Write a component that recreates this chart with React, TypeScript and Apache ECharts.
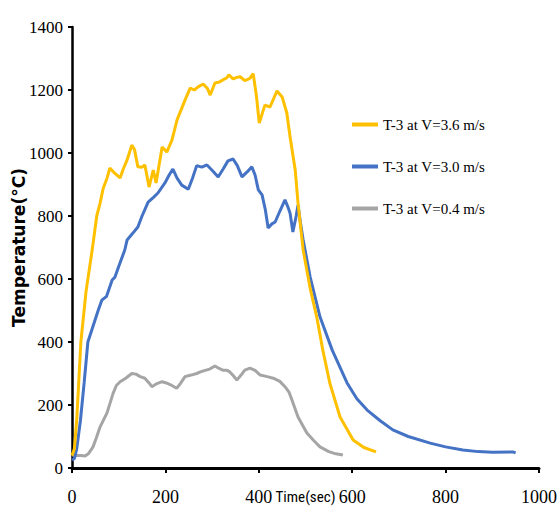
import React, { useEffect, useRef } from "react";
import * as echarts from "echarts";

const seriesNames = ["T-3 at V=3.6 m/s", "T-3 at V=3.0 m/s", "T-3 at V=0.4 m/s"];
const seriesColors = ["#FFC000", "#4472C4", "#A5A5A5"];

const yellowData: number[][] = [
  [0, 40], [5, 60], [10, 150], [19, 400], [30, 560], [43, 690], [53, 800], [60, 840], [67, 889],
  [75, 920], [81, 952], [92, 935], [103, 921], [110, 950], [118, 978], [128, 1025], [134, 1010],
  [141, 956], [150, 955], [156, 962], [165, 892], [174, 946], [180, 905], [193, 1019], [203, 1003],
  [214, 1041], [225, 1105], [242, 1168], [253, 1206], [262, 1200], [270, 1210], [281, 1219],
  [290, 1205], [296, 1184], [306, 1222], [315, 1225], [323, 1232], [331, 1238], [336, 1248],
  [345, 1235], [353, 1240], [360, 1242], [370, 1230], [381, 1237], [388, 1252], [395, 1180],
  [401, 1095], [413, 1152], [424, 1146], [439, 1197], [450, 1178], [460, 1127], [467, 1051],
  [478, 946], [484, 841], [495, 692], [510, 570], [524, 480], [537, 375], [552, 270], [574, 162],
  [602, 89], [625, 65], [651, 51]
];

const blueData: number[][] = [
  [0, 25], [5, 30], [10, 60], [18, 150], [26, 270], [34, 400], [45, 450], [56, 500], [64, 533],
  [74, 545], [86, 597], [92, 606], [100, 640], [113, 692], [118, 724], [130, 745], [141, 765],
  [150, 800], [163, 844], [175, 860], [184, 873], [199, 905], [208, 930], [216, 949], [225, 920],
  [235, 898], [249, 885], [258, 920], [267, 960], [278, 955], [289, 962], [300, 945], [313, 924],
  [324, 950], [334, 975], [345, 981], [354, 960], [364, 924], [375, 940], [385, 956], [392, 930],
  [399, 883], [407, 867], [414, 820], [420, 762], [428, 775], [435, 781], [445, 815], [456, 851],
  [462, 830], [467, 809], [473, 749], [480, 800], [484, 835], [489, 780], [495, 724], [510, 606],
  [531, 480], [557, 375], [589, 270], [610, 220], [632, 184], [660, 150], [687, 121], [720, 100],
  [767, 79], [800, 67], [837, 57], [870, 52], [900, 50], [944, 51], [950, 48]
];

const grayData: number[][] = [
  [0, 41], [10, 40], [20, 40], [28, 38], [35, 45], [45, 67], [52, 95], [60, 130], [75, 175],
  [88, 237], [95, 262], [103, 274], [115, 285], [128, 300], [137, 298], [146, 290], [156, 285],
  [165, 270], [171, 258], [182, 268], [193, 274], [202, 270], [210, 265], [224, 253], [233, 270],
  [242, 290], [255, 295], [267, 300], [275, 305], [285, 310], [295, 314], [306, 324], [315, 316],
  [324, 310], [332, 310], [338, 305], [346, 292], [353, 279], [362, 295], [370, 311], [381, 317],
  [392, 310], [403, 295], [418, 290], [431, 285], [445, 275], [456, 258], [465, 240], [471, 216],
  [484, 162], [494, 135], [503, 111], [517, 88], [531, 67], [550, 52], [565, 45], [580, 41]
];

const allData = [yellowData, blueData, grayData];

const xAxisName = "Time(sec)";
const yAxisName = "Temperature(°C)";

export default function App() {
  const ref = useRef<HTMLDivElement>(null);
  useEffect(() => {
    if (!ref.current) return;
    const chart = echarts.init(ref.current, null, { renderer: "svg" });
    chart.setOption({
      animation: false,
      backgroundColor: "#ffffff",
      grid: { left: 72, right: 19, top: 27, bottom: 46, containLabel: false, outerBoundsMode: "none" },
      legend: {
        orient: "vertical",
        left: 347,
        top: 112,
        itemWidth: 26,
        itemHeight: 4,
        itemGap: 27,
        icon: "rect",
        data: seriesNames,
        textStyle: { fontFamily: "Liberation Serif", fontSize: 15, color: "#000" },
      },
      xAxis: {
        type: "value",
        min: 0,
        max: 1000,
        interval: 200,
        name: xAxisName,
        nameLocation: "middle",
        nameGap: 21,
        nameMoveOverlap: false,
        nameTextStyle: {
          fontFamily: "Liberation Sans Narrow, Roboto Condensed, Roboto, sans-serif",
          fontSize: 15,
          color: "#000",
          verticalAlign: "top",
        },
        splitLine: { show: false },
        axisLine: { lineStyle: { color: "#000", width: 3 } },
        axisTick: { show: true, length: 5, lineStyle: { color: "#000", width: 2 } },
        axisLabel: {
          fontFamily: "Liberation Serif",
          fontSize: 18,
          color: "#000",
          margin: 20,
          formatter: (v: number) => String(v),
        },
      },
      yAxis: {
        type: "value",
        min: 0,
        max: 1400,
        interval: 200,
        name: yAxisName,
        nameLocation: "middle",
        nameGap: 45,
        nameMoveOverlap: false,
        nameTextStyle: { fontFamily: "DejaVu Sans", fontWeight: "bold", fontSize: 17, color: "#000" },
        splitLine: { show: false },
        axisLine: { lineStyle: { color: "#000", width: 2.5 } },
        axisTick: { show: true, length: 4, lineStyle: { color: "#000", width: 2 } },
        axisLabel: {
          fontFamily: "Liberation Serif",
          fontSize: 17,
          color: "#000",
          margin: 9,
          formatter: (v: number) => String(v),
        },
      },
      series: seriesNames.map((name, i) => ({
        name,
        type: "line",
        data: allData[i],
        showSymbol: false,
        smooth: false,
        color: seriesColors[i],
        lineStyle: { width: 3, color: seriesColors[i] },
        z: i === 0 ? 3 : i === 1 ? 2 : 1,
      })),
    });
    return () => chart.dispose();
  }, []);
  return (
    <div
      ref={ref}
      style={{ position: "fixed", left: 0, top: 0, width: 558, height: 514, background: "#fff" }}
    />
  );
}
